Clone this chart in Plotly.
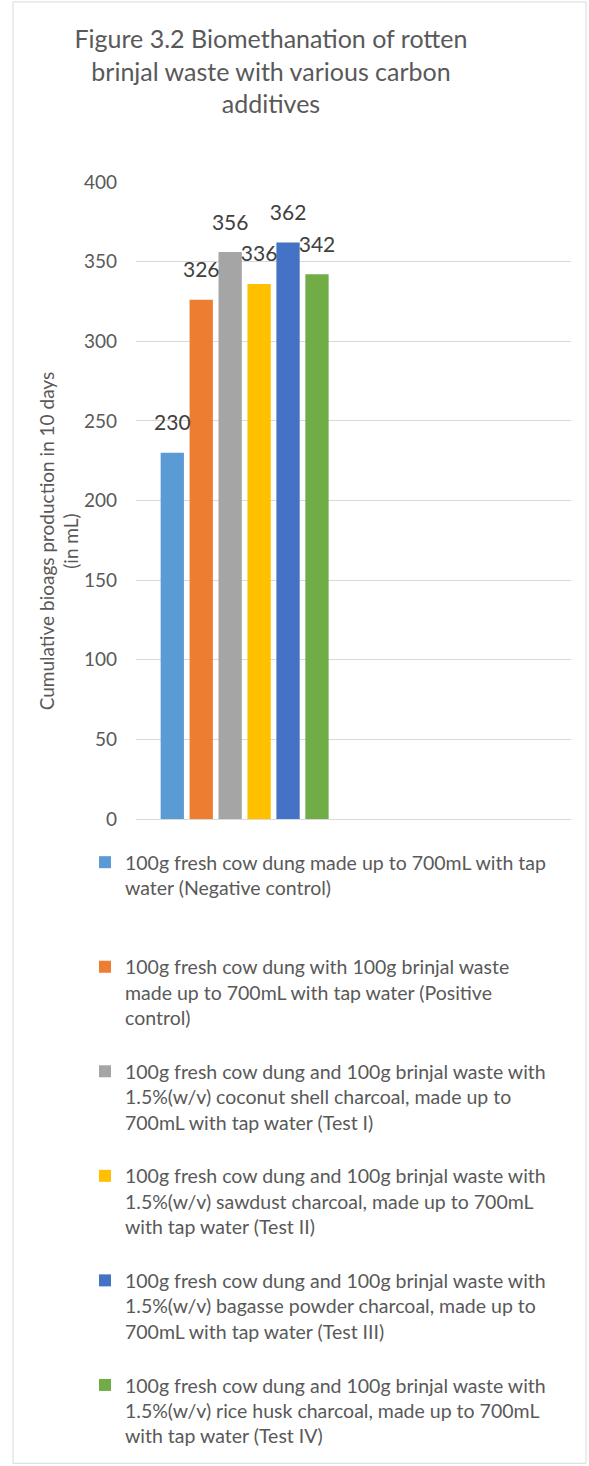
import plotly.graph_objects as go

# Cumulative biogas after 10 days for each digester set-up
series_names = [
    "100g fresh cow dung made up to 700mL with tap<br>water (Negative control)<br> ",
    "100g fresh cow dung with 100g brinjal waste<br>made up to 700mL with tap water (Positive<br>control)",
    "100g fresh cow dung and 100g brinjal waste with<br>1.5%(w/v) coconut shell charcoal, made up to<br>700mL with tap water (Test I)",
    "100g fresh cow dung and 100g brinjal waste with<br>1.5%(w/v) sawdust charcoal, made up to 700mL<br>with tap water (Test II)",
    "100g fresh cow dung and 100g brinjal waste with<br>1.5%(w/v) bagasse powder charcoal, made up to<br>700mL with tap water (Test III)",
    "100g fresh cow dung and 100g brinjal waste with<br>1.5%(w/v) rice husk charcoal, made up to 700mL<br>with tap water (Test IV)",
]
series_keys = ["Negative control", "Positive control", "Test I", "Test II", "Test III", "Test IV"]
biogas_ml = [230, 326, 356, 336, 362, 342]
series_colors = ["#5B9BD5", "#ED7D31", "#A5A5A5", "#FFC000", "#4472C4", "#70AD47"]
y_ticks = [0, 50, 100, 150, 200, 250, 300, 350, 400]

FONT = "Lato"
GREY = "#595959"

fig = go.Figure()
for key, name, val, col in zip(series_keys, series_names, biogas_ml, series_colors):
    fig.add_trace(go.Bar(
        x=[key], y=[val], name=name, width=0.805,
        marker=dict(color=col, line=dict(width=0)),
        legendgroup=key,
    ))

# value labels above each column
fig.add_trace(go.Scatter(
    x=series_keys, y=biogas_ml, mode="markers+text",
    text=[str(v) for v in biogas_ml], textposition="top center",
    textfont=dict(family=FONT, size=21, color="#404040"),
    marker=dict(size=26, opacity=0), showlegend=False, hoverinfo="skip",
    cliponaxis=False,
))

fig.update_layout(
    width=589, height=1466,
    margin=dict(l=136, r=18, t=182, b=646),
    paper_bgcolor="white", plot_bgcolor="white",
    barmode="overlay",
    showlegend=True,
    font=dict(family=FONT, color=GREY),
    title=dict(
        text="Figure 3.2 Biomethanation of rotten<br>brinjal waste with various carbon<br>additives",
        font=dict(family=FONT, size=25, color=GREY),
        x=(271 - 136) / 435, xref="paper", xanchor="center",
        y=1 - 48 / 1466, yref="container", yanchor="top",
    ),
    xaxis=dict(
        type="category", categoryorder="array", categoryarray=series_keys,
        range=[-1.254, 13.777], showticklabels=False, showgrid=False,
        zeroline=False, showline=False, ticks="",
    ),
    yaxis=dict(
        range=[0, 400], tickvals=y_ticks, showgrid=True, gridcolor="#D9D9D9",
        gridwidth=1, zeroline=True, zerolinecolor="#D9D9D9", zerolinewidth=1,
        showline=False, ticks="", ticklabelstandoff=18,
        tickfont=dict(family=FONT, size=19, color=GREY),
    ),
    legend=dict(
        x=(85 - 136) / 435, xanchor="left",
        y=(820 - 843) / 637.7, yanchor="top",
        font=dict(family=FONT, size=19.5, color=GREY),
        valign="top", tracegroupgap=25.5, bgcolor="rgba(0,0,0,0)",
    ),
    annotations=[dict(
        text="Cumulative bioags production in 10 days<br>(in mL)",
        textangle=-90, xref="paper", yref="paper",
        x=(59 - 136) / 435, y=(820 - 542) / 637.7,
        xanchor="center", yanchor="middle", showarrow=False,
        font=dict(family=FONT, size=19, color=GREY),
    )],
    shapes=[dict(
        type="rect", xref="paper", yref="paper",
        x0=(13 - 136) / 435, x1=(586 - 136) / 435,
        y0=(820 - 1465) / 637.7, y1=(820 - 2) / 637.7,
        line=dict(color="#D9D9D9", width=1), fillcolor="rgba(0,0,0,0)",
        layer="below",
    )],
)

fig.write_html("out.html")
